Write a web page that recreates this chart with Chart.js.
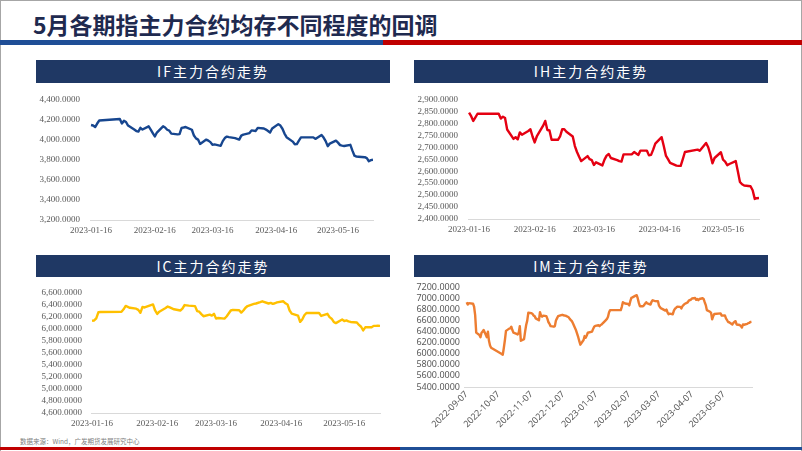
<!DOCTYPE html>
<html>
<head>
<meta charset="utf-8">
<script src="https://cdn.jsdelivr.net/npm/chart.js@4.4.1/dist/chart.umd.min.js"></script>
<style>
  body { margin: 0; width: 802px; height: 451px; position: relative; overflow: hidden; background: #fff;
         font-family: 'Noto Sans CJK SC', sans-serif; }
  .frame { position: absolute; left: 0; top: 0; width: 800px; height: 451px; border: 1px solid #a6a6a6; border-bottom: none; }
  #title { position: absolute; left: 33px; top: 9px; font-size: 23px; line-height: 30px; font-weight: bold; color: #1f2a4f; }
  .bar { position: absolute; }
  .head { position: absolute; background: #1f3864; color: #fff; text-align: center; font-size: 14px; letter-spacing: 2px; }
  .box { position: absolute; }
  #note { position: absolute; left: 20px; top: 436px; font-size: 6.5px; color: #808080; }
</style>
</head>
<body>
<div class="frame"></div>
<div id="title">5月各期指主力合约均存不同程度的回调</div>
<div class="bar" style="left:0;top:40px;width:383px;height:5px;background:#1f4e96"></div>
<div class="bar" style="left:383px;top:40px;width:419px;height:5px;background:#c00000"></div>

<div class="head" style="left:36px;top:60px;width:354px;height:23px;line-height:23px">IF主力合约走势</div>
<div class="head" style="left:414px;top:60px;width:354px;height:23px;line-height:23px">IH主力合约走势</div>
<div class="head" style="left:36px;top:255px;width:354px;height:22px;line-height:22px">IC主力合约走势</div>
<div class="head" style="left:414px;top:255px;width:354px;height:22px;line-height:22px">IM主力合约走势</div>

<div class="box" style="left:36px;top:84px"><canvas id="cIF" width="354" height="156"></canvas></div>
<div class="box" style="left:414px;top:84px"><canvas id="cIH" width="354" height="156"></canvas></div>
<div class="box" style="left:36px;top:278px"><canvas id="cIC" width="354" height="156"></canvas></div>
<div class="box" style="left:414px;top:278px"><canvas id="cIM" width="354" height="162"></canvas></div>

<div id="note">数据来源：Wind，广发期货发展研究中心</div>
<div class="bar" style="left:0;top:447px;width:400px;height:3px;background:#c00000"></div>
<div class="bar" style="left:400px;top:447px;width:402px;height:3px;background:#1f4e96"></div>

<script>
// —————— DATA ——————
const ifDates = [
  '2023-01-16','2023-01-17','2023-01-18','2023-01-19','2023-01-20','2023-01-30','2023-01-31',
  '2023-02-01','2023-02-02','2023-02-03','2023-02-06','2023-02-07','2023-02-08','2023-02-09','2023-02-10',
  '2023-02-13','2023-02-14','2023-02-15','2023-02-16','2023-02-17','2023-02-20','2023-02-21','2023-02-22',
  '2023-02-23','2023-02-24','2023-02-27','2023-02-28',
  '2023-03-01','2023-03-02','2023-03-03','2023-03-06','2023-03-07','2023-03-08','2023-03-09','2023-03-10',
  '2023-03-13','2023-03-14','2023-03-15','2023-03-16','2023-03-17','2023-03-20','2023-03-21','2023-03-22',
  '2023-03-23','2023-03-24','2023-03-27','2023-03-28','2023-03-29','2023-03-30','2023-03-31',
  '2023-04-03','2023-04-04','2023-04-06','2023-04-07','2023-04-10','2023-04-11','2023-04-12','2023-04-13',
  '2023-04-14','2023-04-17','2023-04-18','2023-04-19','2023-04-20','2023-04-21','2023-04-24','2023-04-25',
  '2023-04-26','2023-04-27','2023-04-28',
  '2023-05-04','2023-05-05','2023-05-08','2023-05-09','2023-05-10','2023-05-11','2023-05-12','2023-05-15',
  '2023-05-16','2023-05-17','2023-05-18','2023-05-19','2023-05-22','2023-05-23','2023-05-24','2023-05-25',
  '2023-05-26','2023-05-29','2023-05-30','2023-05-31','2023-06-01','2023-06-02'
];
const ifValues = [
  4145,4140,4125,4160,4190,4205,4160,
  4188,4175,4140,4100,4085,4080,4117,4100,
  4132,4100,4065,4031,4070,4132,4120,4098,
  4090,4060,4052,4055,
  4117,4120,4125,4098,4040,4012,4000,3957,
  4000,3990,3975,3948,3952,3938,3985,4015,
  4030,4025,4015,4008,4000,4040,4050,
  4065,4092,4086,4117,4110,4100,4086,4070,
  4110,4154,4140,4108,4060,4024,3980,3954,
  3955,3990,4022,
  4022,4007,4046,4020,3985,3935,3960,3990,
  3970,3945,3940,3936,3948,3890,3840,3831,
  3830,3825,3815,3785,3795,3800
];

const ihDates = [
  '2023-01-16','2023-01-17','2023-01-18','2023-01-19','2023-01-20','2023-01-30','2023-01-31',
  '2023-02-01','2023-02-02','2023-02-03','2023-02-06','2023-02-07','2023-02-08','2023-02-09','2023-02-10',
  '2023-02-13','2023-02-14','2023-02-15','2023-02-16','2023-02-17','2023-02-20','2023-02-21','2023-02-22',
  '2023-02-23','2023-02-24','2023-02-27','2023-02-28',
  '2023-03-01','2023-03-02','2023-03-03','2023-03-06','2023-03-07','2023-03-08','2023-03-09','2023-03-10',
  '2023-03-13','2023-03-14','2023-03-15','2023-03-16','2023-03-17','2023-03-20','2023-03-21','2023-03-22',
  '2023-03-23','2023-03-24','2023-03-27','2023-03-28','2023-03-29','2023-03-30','2023-03-31',
  '2023-04-03','2023-04-04','2023-04-06','2023-04-07','2023-04-10','2023-04-11','2023-04-12','2023-04-13',
  '2023-04-14','2023-04-17','2023-04-18','2023-04-19','2023-04-20','2023-04-21','2023-04-24','2023-04-25',
  '2023-04-26','2023-04-27','2023-04-28',
  '2023-05-04','2023-05-05','2023-05-08','2023-05-09','2023-05-10','2023-05-11','2023-05-12','2023-05-15',
  '2023-05-16','2023-05-17','2023-05-18','2023-05-19','2023-05-22','2023-05-23','2023-05-24','2023-05-25',
  '2023-05-26','2023-05-29','2023-05-30','2023-05-31','2023-06-01','2023-06-02'
];
const ihValues = [
  2845,2830,2810,2825,2840,2840,2820,
  2828,2822,2774,2735,2742,2733,2762,2752,
  2768,2775,2745,2720,2745,2790,2810,2772,
  2770,2731,2731,2745,
  2775,2775,2765,2745,2705,2680,2660,2642,
  2663,2650,2646,2626,2637,2624,2648,2665,
  2672,2655,2646,2642,2640,2670,2670,
  2671,2680,2668,2686,2686,2666,2668,2690,
  2715,2742,2705,2665,2650,2635,2623,2622,
  2622,2650,2680,
  2690,2685,2718,2700,2670,2633,2655,2679,
  2648,2640,2625,2630,2642,2600,2555,2545,
  2540,2537,2520,2484,2487,2488
];

const icDates = ihDates;
const icValues = [
  6130,6135,6170,6270,6275,6280,6320,
  6375,6360,6345,6330,6310,6262,6360,6350,
  6390,6400,6300,6243,6280,6340,6365,6350,
  6335,6320,6300,6330,
  6390,6385,6380,6372,6290,6280,6240,6205,
  6232,6215,6245,6165,6175,6165,6200,6250,
  6300,6311,6305,6265,6300,6345,6374,
  6410,6416,6440,6453,6416,6425,6410,6420,
  6435,6453,6420,6400,6300,6248,6216,6111,
  6150,6220,6259,
  6259,6210,6245,6190,6164,6110,6090,6150,
  6125,6135,6120,6110,6100,6060,6030,5970,
  6021,6021,6045,6045,6048,6045
];

const imDates = [
  '2022-09-07','2022-09-08','2022-09-09','2022-09-13','2022-09-14','2022-09-15','2022-09-16',
  '2022-09-19','2022-09-20','2022-09-21','2022-09-22','2022-09-23','2022-09-26','2022-09-27','2022-09-28',
  '2022-09-29','2022-09-30',
  '2022-10-10','2022-10-11','2022-10-12','2022-10-13','2022-10-14','2022-10-17','2022-10-18','2022-10-19',
  '2022-10-20','2022-10-21','2022-10-24','2022-10-25','2022-10-26','2022-10-27','2022-10-28','2022-10-31',
  '2022-11-01','2022-11-02','2022-11-03','2022-11-04','2022-11-07','2022-11-08','2022-11-09','2022-11-10',
  '2022-11-11','2022-11-14','2022-11-15','2022-11-16','2022-11-17','2022-11-18','2022-11-21','2022-11-22',
  '2022-11-23','2022-11-24','2022-11-25','2022-11-28','2022-11-29','2022-11-30',
  '2022-12-01','2022-12-02','2022-12-05','2022-12-06','2022-12-07','2022-12-08','2022-12-09','2022-12-12',
  '2022-12-13','2022-12-14','2022-12-15','2022-12-16','2022-12-19','2022-12-20','2022-12-21','2022-12-22',
  '2022-12-23','2022-12-26','2022-12-27','2022-12-28','2022-12-29','2022-12-30',
  '2023-01-03','2023-01-04','2023-01-05','2023-01-06','2023-01-09','2023-01-10','2023-01-11','2023-01-12',
  '2023-01-13','2023-01-16','2023-01-17','2023-01-18','2023-01-19','2023-01-20','2023-01-30','2023-01-31',
  '2023-02-01','2023-02-02','2023-02-03','2023-02-06','2023-02-07','2023-02-08','2023-02-09','2023-02-10',
  '2023-02-13','2023-02-14','2023-02-15','2023-02-16','2023-02-17','2023-02-20','2023-02-21','2023-02-22',
  '2023-02-23','2023-02-24','2023-02-27','2023-02-28',
  '2023-03-01','2023-03-02','2023-03-03','2023-03-06','2023-03-07','2023-03-08','2023-03-09','2023-03-10',
  '2023-03-13','2023-03-14','2023-03-15','2023-03-16','2023-03-17','2023-03-20','2023-03-21','2023-03-22',
  '2023-03-23','2023-03-24','2023-03-27','2023-03-28','2023-03-29','2023-03-30','2023-03-31',
  '2023-04-03','2023-04-04','2023-04-06','2023-04-07','2023-04-10','2023-04-11','2023-04-12','2023-04-13',
  '2023-04-14','2023-04-17','2023-04-18','2023-04-19','2023-04-20','2023-04-21','2023-04-24','2023-04-25',
  '2023-04-26','2023-04-27','2023-04-28',
  '2023-05-04','2023-05-05','2023-05-08','2023-05-09','2023-05-10','2023-05-11','2023-05-12','2023-05-15',
  '2023-05-16','2023-05-17','2023-05-18','2023-05-19','2023-05-22','2023-05-23','2023-05-24','2023-05-25',
  '2023-05-26','2023-05-29','2023-05-30','2023-05-31','2023-06-01','2023-06-02'
];
const imValues = [
  6930,6890,6915,6905,6850,6700,6383,
  6340,6300,6380,6400,6430,6300,6400,6235,
  6150,6110,
  5995,5985,6110,6250,6414,6455,6460,6490,
  6430,6383,6360,6350,6380,6500,6235,6265,
  6400,6520,6600,6741,6735,6720,6690,6680,
  6640,6605,6753,6690,6670,6690,6680,6630,
  6570,6540,6500,6490,6500,6600,
  6640,6680,6700,6705,6700,6690,6690,6660,
  6630,6610,6590,6551,6420,6360,6300,6230,
  6165,6250,6320,6290,6330,6380,
  6400,6450,6490,6505,6515,6500,6520,6530,
  6551,6610,6630,6670,6750,6789,6790,6850,
  6932,6920,6910,6900,6875,6950,7010,7020,
  7052,7060,7000,6920,6860,6860,6880,6910,
  6932,6910,6891,6940,
  6968,6960,6955,6950,6870,6840,6820,6812,
  6780,6800,6750,6715,6725,6715,6780,6815,
  6830,6850,6848,6820,6860,6880,6900,
  6930,6960,6980,7000,7009,6975,6990,6970,
  6990,7004,6990,6932,6880,6790,6760,6740,
  6623,6680,6720,
  6730,6690,6695,6640,6610,6575,6570,6530,
  6560,6580,6590,6530,6520,6500,6475,6530,
  6525,6540,6555,6560,6575,6578
];

const monthTicks = ['2023-01-16','2023-02-16','2023-03-16','2023-04-16','2023-05-16'];
const imTicks = ['2022-09-07','2022-10-07','2022-11-07','2022-12-07','2023-01-07',
                 '2023-02-07','2023-03-07','2023-04-07','2023-05-07'];

// —————— HELPERS ——————
const GRAY = '#595959';
const SERIF = "'Liberation Serif','Times New Roman',serif";
const SANS = "'Noto Sans','DejaVu Sans',sans-serif";

function dayNum(s) {
  const [y, m, d] = s.split('-').map(Number);
  return Date.UTC(y, m - 1, d) / 864e5;
}
function dayStr(n) {
  return new Date(Math.round(n) * 864e5).toISOString().slice(0, 10);
}
const withComma = v => v.toLocaleString('en-US', { minimumFractionDigits: 4, maximumFractionDigits: 4 });
const plain = v => v.toFixed(4);

function drawLine(id, o) {
  const pts = o.dates.map((d, i) => ({ x: dayNum(d), y: o.values[i] }));
  new Chart(document.getElementById(id), {
    type: 'line',
    data: {
      datasets: [{
        data: pts,
        borderColor: o.color,
        borderWidth: 2.4,
        pointRadius: 0,
        tension: 0,
        borderJoinStyle: 'round',
        fill: false
      }]
    },
    options: {
      responsive: false,
      animation: false,
      devicePixelRatio: 1,
      layout: { padding: { top: o.padTop, right: o.padRight, left: 0, bottom: 0 } },
      plugins: { legend: { display: false }, tooltip: { enabled: false } },
      scales: {
        x: {
          type: 'linear',
          min: o.xMin,
          max: o.xMax,
          grid: { display: false, drawTicks: false },
          border: { display: true, color: '#d9d9d9', width: 1 },
          afterBuildTicks: s => { s.ticks = o.xTicks.map(d => ({ value: dayNum(d) })); },
          afterFit: s => { s.height = o.xHeight; },
          ticks: {
            autoSkip: false,
            minRotation: o.rot,
            maxRotation: o.rot,
            padding: o.xPad,
            color: GRAY,
            font: { family: o.font, size: 9 },
            callback: v => dayStr(v)
          }
        },
        y: {
          min: o.yMin,
          max: o.yMax,
          grid: { display: false, drawTicks: false },
          border: { display: false },
          afterFit: s => { s.width = o.yWidth; },
          ticks: {
            stepSize: o.yStep,
            autoSkip: false,
            padding: o.yPad,
            color: GRAY,
            font: { family: o.font, size: 9 },
            callback: o.fmt
          }
        }
      }
    }
  });
}

// —————— CHARTS ——————
drawLine('cIF', {
  dates: ifDates, values: ifValues, color: '#17468f',
  yMin: 3200, yMax: 4400, yStep: 200, fmt: withComma, font: SERIF,
  xMin: dayNum('2023-01-16') - 0.5, xMax: dayNum('2023-06-02'), xTicks: monthTicks, rot: 0,
  padTop: 6, padRight: 17, yWidth: 54, yPad: 10, xHeight: 20, xPad: 5
});

drawLine('cIH', {
  dates: ihDates, values: ihValues, color: '#e50012',
  yMin: 2400, yMax: 2900, yStep: 50, fmt: withComma, font: SERIF,
  xMin: dayNum('2023-01-16') - 0.5, xMax: dayNum('2023-06-02'), xTicks: monthTicks, rot: 0,
  padTop: 8, padRight: 9, yWidth: 54, yPad: 10, xHeight: 21, xPad: 5
});

drawLine('cIC', {
  dates: icDates, values: icValues, color: '#ffc000',
  yMin: 4600, yMax: 6600, yStep: 200, fmt: withComma, font: SERIF,
  xMin: dayNum('2023-01-16') - 0.5, xMax: dayNum('2023-06-02'), xTicks: monthTicks, rot: 0,
  padTop: 9, padRight: 10, yWidth: 55, yPad: 9, xHeight: 21, xPad: 5
});

drawLine('cIM', {
  dates: imDates, values: imValues, color: '#ed7d31',
  yMin: 5400, yMax: 7200, yStep: 200, fmt: plain, font: SANS,
  xMin: dayNum('2022-09-07') - 2.5, xMax: dayNum('2023-06-02') + 0.5, xTicks: imTicks, rot: 45,
  padTop: 8, padRight: 16, yWidth: 50, yPad: 4, xHeight: 53, xPad: 2
});
</script>
</body>
</html>
